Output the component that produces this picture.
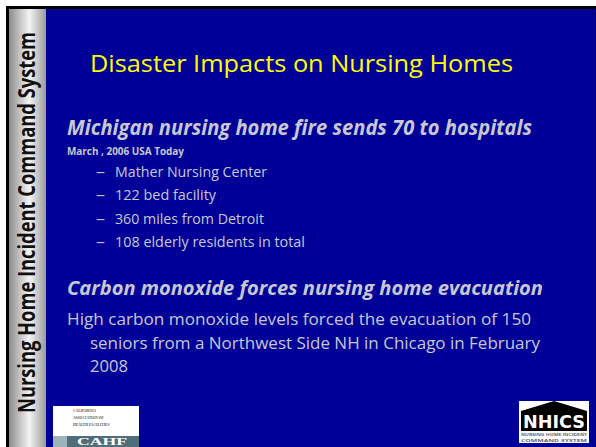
import React, { useLayoutEffect, useRef, useState } from "react";

const W = 596;
const H = 447;

const title = "Disaster Impacts on Nursing Homes";
const sidebarText = "Nursing Home Incident Command System";
const heading1 = "Michigan nursing home fire sends 70 to hospitals";
const source1 = "March , 2006  USA Today";
const bullets = [
  "Mather Nursing Center",
  "122 bed facility",
  "360 miles from Detroit",
  "108 elderly residents in total",
];
const bulletWidths = [152, 101, 149, 190];
const heading2 = "Carbon monoxide forces nursing home evacuation";
const bodyLines = [
  "High carbon monoxide levels forced the evacuation of 150",
  "seniors from a Northwest Side NH in Chicago in February",
  "2008",
];
const bodyX = [67, 90, 90];
const bodyWidths = [464, 450, 38];

const FONT = "'Open Sans', 'DejaVu Sans', sans-serif";
const GRAY = "#c8c8d2";
const SIDEBAR_LEN = 381;

export default function App() {
  const sideRef = useRef<SVGTextElement | null>(null);
  const [sx, setSx] = useState(0.75);

  useLayoutEffect(() => {
    const el = sideRef.current;
    if (el) {
      const len = el.getComputedTextLength();
      if (len > 0) setSx(SIDEBAR_LEN / len);
    }
  }, []);

  return (
    <svg
      width={W}
      height={H}
      style={{ position: "absolute", left: 0, top: 0, display: "block" }}
      fontFamily={FONT}
    >
      <defs>
        <linearGradient id="side" x1="0" x2="1" y1="0" y2="0">
          <stop offset="0" stopColor="#8c8c8c" />
          <stop offset="0.55" stopColor="#f4f4f4" />
          <stop offset="1" stopColor="#9a9a9a" />
        </linearGradient>
      </defs>
      <rect x={0} y={0} width={W} height={H} fill="#ffffff" />
      <rect x={6} y={6} width={W - 6} height={H - 6} fill="#000000" />
      <rect x={9} y={9} width={37} height={H - 9} fill="url(#side)" />
      <rect x={46} y={9} width={549} height={H - 9} fill="#000099" />

      {/* sidebar vertical title */}
      <g transform={`translate(34.5,413) rotate(-90) scale(${sx},1)`}>
        <text ref={sideRef} x={0} y={0} fontSize={23} fontWeight="bold" fill="#111">
          {sidebarText}
        </text>
      </g>

      {/* title */}
      <text x={90} y={72} fontSize={23.5} fill="#ffff00" textLength={423} lengthAdjust="spacingAndGlyphs">
        {title}
      </text>

      {/* heading 1 */}
      <text
        x={67}
        y={135}
        fontSize={21}
        fontWeight="bold"
        fontStyle="italic"
        fill={GRAY}
        textLength={465}
        lengthAdjust="spacingAndGlyphs"
      >
        {heading1}
      </text>
      <text x={67} y={155} fontSize={9.8} fontWeight="bold" fill={GRAY} textLength={117} lengthAdjust="spacingAndGlyphs">
        {source1}
      </text>

      {bullets.map((b, i) => (
        <g key={b}>
          <text x={96} y={177 + i * 23.3} fontSize={15} fill={GRAY} textLength={9} lengthAdjust="spacingAndGlyphs">
            –
          </text>
          <text
            x={115}
            y={177 + i * 23.3}
            fontSize={15}
            fill={GRAY}
            textLength={bulletWidths[i]}
            lengthAdjust="spacingAndGlyphs"
          >
            {b}
          </text>
        </g>
      ))}

      {/* heading 2 */}
      <text
        x={67}
        y={295}
        fontSize={20}
        fontWeight="bold"
        fontStyle="italic"
        fill={GRAY}
        textLength={476}
        lengthAdjust="spacingAndGlyphs"
      >
        {heading2}
      </text>

      {bodyLines.map((l, i) => (
        <text
          key={l}
          x={bodyX[i]}
          y={325 + i * 23.5}
          fontSize={16.5}
          fill={GRAY}
          textLength={bodyWidths[i]}
          lengthAdjust="spacingAndGlyphs"
        >
          {l}
        </text>
      ))}

      {/* CAHF logo */}
      <g>
        <rect x={53} y={406} width={86} height={41} fill="#ffffff" />
        <text x={73} y={412} fontSize={3.6} fill="#555" fontFamily="'Liberation Serif', serif" fontWeight="bold">
          CALIFORNIA
        </text>
        <text x={73} y={419} fontSize={3.6} fill="#555" fontFamily="'Liberation Serif', serif" fontWeight="bold">
          ASSOCIATION OF
        </text>
        <text x={73} y={426} fontSize={3.6} fill="#555" fontFamily="'Liberation Serif', serif" fontWeight="bold">
          HEALTH FACILITIES
        </text>
        <rect x={53} y={436} width={86} height={11} fill="#4f6e7a" />
        <rect x={53} y={436} width={14} height={11} fill="#9fb3ba" />
        <text
          x={102}
          y={444.5}
          fontSize={11}
          fill="#ffffff"
          textAnchor="middle"
          fontFamily="'Liberation Serif', serif"
          fontWeight="bold"
          textLength={50}
          lengthAdjust="spacingAndGlyphs"
        >
          CAHF
        </text>
      </g>

      {/* NHICS logo */}
      <g>
        <rect x={519} y={401} width={70} height={42} fill="#ffffff" />
        <polygon points="521,411 554,401 587,411 587,431 521,431" fill="#000000" />
        <text
          x={554}
          y={428}
          fontSize={17}
          fontWeight="bold"
          fill="#ffffff"
          textAnchor="middle"
          fontFamily="'DejaVu Sans', sans-serif"
          textLength={62}
          lengthAdjust="spacingAndGlyphs"
        >
          NHICS
        </text>
        <text x={554} y={436} fontSize={4.2} fill="#666" textAnchor="middle" fontWeight="bold" textLength={66} lengthAdjust="spacingAndGlyphs">
          NURSING HOME INCIDENT
        </text>
        <text x={554} y={441.5} fontSize={4.2} fill="#666" textAnchor="middle" fontWeight="bold" textLength={66} lengthAdjust="spacingAndGlyphs">
          COMMAND SYSTEM
        </text>
      </g>
    </svg>
  );
}
